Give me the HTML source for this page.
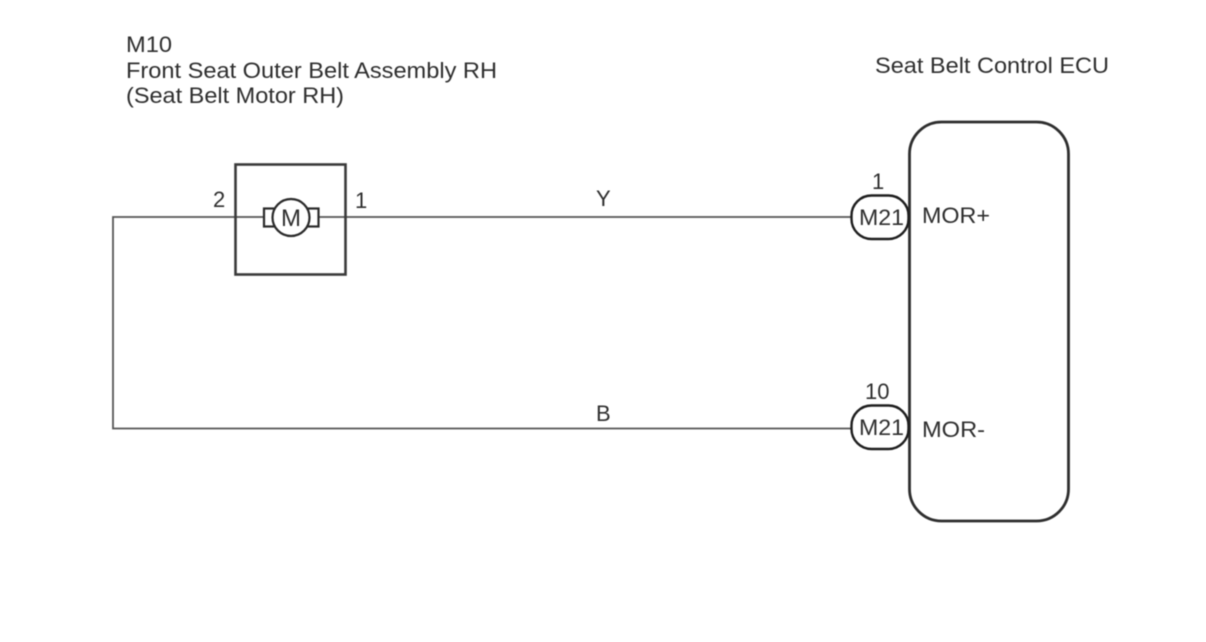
<!DOCTYPE html>
<html>
<head>
<meta charset="utf-8">
<style>
html,body{margin:0;padding:0;background:#fff;width:1206px;height:642px;overflow:hidden}
svg{display:block}
text{font-family:"Liberation Sans",sans-serif;font-size:22px;fill:#2e2e2e}
.soft{filter:blur(0.4px)}
</style>
</head>
<body>
<svg width="1206" height="642" viewBox="0 0 1206 642" xmlns="http://www.w3.org/2000/svg">
<rect width="1206" height="642" fill="#fff"/>
<g class="soft">
<g fill="none">
<path d="M851 217H319M263 217H113V428.500H851" stroke="#555" stroke-width="1.800"/>
<rect x="235.500" y="164.500" width="110" height="110" stroke="#3a3a3a" stroke-width="2.600"/>
<rect x="264" y="208.500" width="54.500" height="18" fill="#fff" stroke="#2a2a2a" stroke-width="2.200"/>
<circle cx="291" cy="217.500" r="18.500" fill="#fff" stroke="#2a2a2a" stroke-width="2.200"/>
<rect x="909.500" y="122" width="159" height="399" rx="32" ry="32" fill="#fff" stroke="#2e2e2e" stroke-width="2.800"/>
<rect x="851.500" y="195.500" width="57" height="43.500" rx="20" ry="20" fill="#fff" stroke="#1e1e1e" stroke-width="2.400"/>
<rect x="851.500" y="405.500" width="57" height="43.500" rx="20" ry="20" fill="#fff" stroke="#1e1e1e" stroke-width="2.400"/>
</g>
<text x="126" y="52" textLength="46" lengthAdjust="spacingAndGlyphs">M10</text>
<text x="126" y="78" textLength="371" lengthAdjust="spacingAndGlyphs">Front Seat Outer Belt Assembly RH</text>
<text x="126" y="103" textLength="218" lengthAdjust="spacingAndGlyphs">(Seat Belt Motor RH)</text>
<text x="875" y="73" textLength="234" lengthAdjust="spacingAndGlyphs">Seat Belt Control ECU</text>
<text x="213" y="207">2</text>
<text x="355" y="208">1</text>
<text x="281" y="226" style="font-size:24px">M</text>
<text x="596" y="206">Y</text>
<text x="596" y="421">B</text>
<text x="872" y="189">1</text>
<text x="865" y="399">10</text>
<text x="859" y="225" textLength="45" lengthAdjust="spacingAndGlyphs">M21</text>
<text x="859" y="435" textLength="45" lengthAdjust="spacingAndGlyphs">M21</text>
<text x="922" y="223" textLength="68" lengthAdjust="spacingAndGlyphs">MOR+</text>
<text x="922" y="437" textLength="63" lengthAdjust="spacingAndGlyphs">MOR-</text>
</g>
</svg>
</body>
</html>
